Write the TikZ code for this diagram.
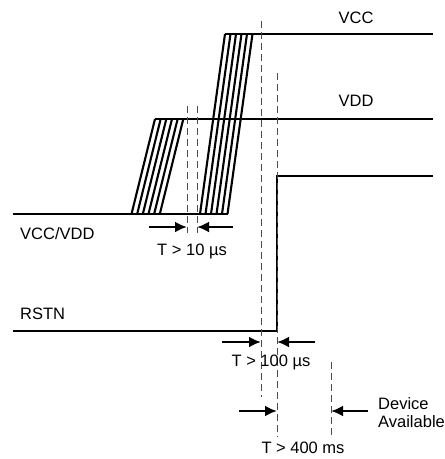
\documentclass[tikz,border=0pt]{standalone}
\usepackage{fontspec}
\setmainfont{Liberation Sans}
\usetikzlibrary{arrows.meta}

\begin{document}
\begin{tikzpicture}[
        x=1pt,
        y=-1pt,
        signal/.style={line width=2.4pt},
        ramp/.style={line width=2.1pt},
        guide/.style={
            draw=black!70,
            line width=1pt,
            dash pattern=on 7pt off 4pt
        },
        timing/.style={-{Latex[length=12pt,width=11pt]}, line width=2.4pt},
        lbl/.style={font=\fontsize{16.5}{18}\selectfont, inner sep=0pt}
    ]

        \useasboundingbox (0,0) rectangle (445,459);

        % supply levels
        \draw[signal] (13,214) -- (228,214);
        \draw[signal] (155,119) -- (433,119);
        \draw[signal] (225,34) -- (433,34);
        \foreach \i in {0,...,5}
            \draw[ramp] ({155+5.66*\i},119) -- ({131.5+5.66*\i},214);
        \foreach \i in {0,...,5}
            \draw[ramp] ({225+5.5*\i},34) -- ({200+5.5*\i},214);

        % reset
        \draw[signal] (13,331) -- (277,331) -- (277,176) -- (433,176);

        % timing guides
        \coordinate (gA) at (187,106);
        \coordinate (gB) at (197,106);
        \coordinate (gC) at (261,21);
        \coordinate (gD) at (277,73);
        \coordinate (gE) at (331,362);
        \draw[guide] (gA) -- ++(0,127);
        \draw[guide] (gB) -- ++(0,127);
        \draw[guide] (gC) -- (261,397);
        \draw[guide] (gD) -- (277,437);
        \draw[guide] (gE) -- (331,435);

        \node[lbl, anchor=base] (vcc) at (356,23) {VCC};
        \node[lbl, anchor=base] (vdd) at (356,106) {VDD};
        \node[lbl, anchor=base west] (supply) at (20,239) {VCC/VDD};
        \node[lbl, anchor=base west] (rstn) at (20,319) {RSTN};
        \node[lbl, anchor=base] (t10) at (192,255) {T > 10 µs};
        \node[lbl, anchor=base] (t100) at (271,366) {T > 100 µs};
        \node[lbl, anchor=base] (t400) at (303,453) {T > 400 ms};
        \node[lbl, anchor=west, align=left] (ready) at (378,413) {Device\\Available};

        \coordinate (tenL) at (149,227);
        \coordinate (tenR) at (233,227);
        \coordinate (hunL) at (222,342);
        \coordinate (hunR) at (315,342);
        \coordinate (fourL) at (239,411);
        \coordinate (fourR) at (368,411);

        \draw[timing] (tenL) -- (tenL -| gA);
        \draw[timing] (tenR) -- (tenR -| gB);
        \draw[timing] (hunL) -- (hunL -| gC);
        \draw[timing] (hunR) -- (hunR -| gD);
        \draw[timing] (fourL) -- (fourL -| gD);
        \draw[timing] (fourR) -- (fourR -| gE);

    \end{tikzpicture}
\end{document}
